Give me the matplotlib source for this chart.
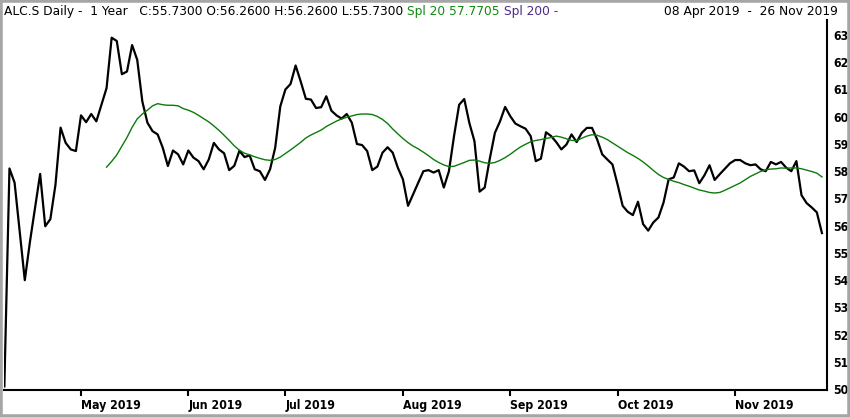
import numpy as np
import pandas as pd
import matplotlib
matplotlib.use("Agg")
import matplotlib.pyplot as plt
from matplotlib import font_manager as fm
from matplotlib.patches import Rectangle
from matplotlib.text import Annotation

# ---------------- data ----------------
start_date = "2019-04-08"
end_date = "2019-11-26"
exchange_holidays = ["2019-04-19", "2019-04-22", "2019-05-01",
                     "2019-05-30", "2019-06-10", "2019-08-01"]

close = [
    50.1, 58.1, 57.58, 55.8, 54.0, 55.4, 56.66, 57.9, 55.98, 56.24,
    57.5, 59.6, 59.04, 58.8, 58.74, 60.05, 59.8, 60.1, 59.83, 60.44,
    61.05, 62.9, 62.78, 61.56, 61.66, 62.63, 62.09, 60.56, 59.78, 59.47,
    59.35, 58.86, 58.19, 58.76, 58.62, 58.25, 58.76, 58.5, 58.37, 58.07,
    58.43, 59.04, 58.8, 58.66, 58.04, 58.2, 58.75, 58.52, 58.58, 58.07,
    58.0, 57.68, 58.07, 58.86, 60.38, 61.0, 61.2, 61.88, 61.29, 60.66,
    60.63, 60.32, 60.35, 60.75, 60.22, 60.05, 59.93, 60.1, 59.78, 59.0,
    58.96, 58.74, 58.04, 58.17, 58.68, 58.88, 58.68, 58.13, 57.7, 56.73,
    57.16, 57.58, 58.0, 58.04, 57.95, 58.04, 57.4, 58.0, 59.29, 60.44,
    60.65, 59.77, 59.1, 57.25, 57.4, 58.46, 59.41, 59.83, 60.36, 60.02,
    59.75, 59.65, 59.56, 59.29, 58.37, 58.46, 59.43, 59.29, 59.07, 58.8,
    58.98, 59.35, 59.07, 59.41, 59.59, 59.59, 59.17, 58.62, 58.43, 58.25,
    57.52, 56.73, 56.51, 56.39, 56.88, 56.06, 55.82, 56.12, 56.3, 56.85,
    57.7, 57.77, 58.29, 58.17, 58.0, 58.03, 57.56, 57.85, 58.22, 57.68,
    57.89, 58.09, 58.29, 58.41, 58.41, 58.29, 58.22, 58.25, 58.07, 58.0,
    58.34, 58.25, 58.34, 58.13, 58.0, 58.37, 57.12, 56.83, 56.67, 56.49,
    55.73,
]

spl20 = [
    58.15, 58.36, 58.6, 58.92, 59.24, 59.61, 59.92, 60.1, 60.24, 60.4,
    60.48, 60.44, 60.42, 60.42, 60.4, 60.3, 60.24, 60.16, 60.05, 59.93,
    59.81, 59.66, 59.5, 59.32, 59.13, 58.93, 58.77, 58.66, 58.6, 58.53,
    58.47, 58.42, 58.4, 58.43, 58.52, 58.65, 58.78, 58.92, 59.06, 59.22,
    59.33, 59.42, 59.51, 59.64, 59.74, 59.84, 59.92, 59.98, 60.03, 60.08,
    60.1, 60.1, 60.08, 60.01, 59.9, 59.75, 59.55, 59.37, 59.2, 59.05,
    58.92, 58.82, 58.7, 58.57, 58.43, 58.32, 58.23, 58.17, 58.18, 58.25,
    58.32, 58.4, 58.41, 58.37, 58.31, 58.29, 58.32, 58.4, 58.5, 58.62,
    58.76, 58.89, 58.99, 59.08, 59.13, 59.16, 59.2, 59.24, 59.29, 59.25,
    59.19, 59.13, 59.12, 59.21, 59.29, 59.34, 59.32, 59.25, 59.16, 59.04,
    58.92, 58.8, 58.68, 58.58, 58.47, 58.34, 58.19, 58.03, 57.88, 57.77,
    57.7, 57.63, 57.58, 57.51, 57.45, 57.38, 57.31, 57.27, 57.22, 57.2,
    57.22, 57.3, 57.39, 57.48, 57.57, 57.69, 57.81, 57.9, 57.99, 58.05,
    58.08, 58.09, 58.12, 58.11, 58.12, 58.12, 58.09, 58.04, 57.99, 57.93,
    57.79,
]

month_labels = ["May 2019", "Jun 2019", "Jul 2019", "Aug 2019",
                "Sep 2019", "Oct 2019", "Nov 2019"]
y_ticks = list(range(50, 64))

header_main = "ALC.S Daily -  1 Year   C:55.7300 O:56.2600 H:56.2600 L:55.7300 "
header_spl20 = "Spl 20 57.7705 "
header_spl200 = "Spl 200 -"
header_range = "08 Apr 2019  -  26 Nov 2019"

# ---------------- derived positions ----------------
days = pd.bdate_range(start_date, end_date, freq="C", holidays=exchange_holidays)
pos = np.arange(len(days))
spl_pos = pos[len(days) - len(spl20):]
months = days.to_period("M")
tick_pos = [int(np.where(months == m)[0][0]) for m in months.unique()[1:]]

# ---------------- fonts ----------------
W, H = 850, 417
have_cond = any(f.name == "DejaVu Sans" and f.stretch == "condensed"
                for f in fm.fontManager.ttflist)
names = {f.name for f in fm.fontManager.ttflist}
if have_cond:
    tick_font = dict(family="DejaVu Sans", stretch="condensed", size=8.8, weight="bold")
elif "Liberation Sans Narrow" in names:
    tick_font = dict(family="Liberation Sans Narrow", size=10.5, weight="bold")
else:
    tick_font = dict(family="DejaVu Sans", size=7.5, weight="bold")

# ---------------- figure ----------------
fig = plt.figure(figsize=(W / 100, H / 100), dpi=100)
fig.patch.set_facecolor("white")

left_px, right_px, top_px, bottom_px = 4, 827, 20, 390
ax = fig.add_axes([left_px / W, (H - bottom_px) / H,
                   (right_px - left_px) / W, (bottom_px - top_px) / H])

ax.plot(pos, close, color="black", lw=1.6, solid_joinstyle="round")
ax.plot(spl_pos, spl20, color="#0c7a0c", lw=1.0)

ax.set_xlim(-0.07, 160.99)
ax.set_ylim(49.97, 63.55)

for s in ("top", "left"):
    ax.spines[s].set_visible(False)
for s in ("right", "bottom"):
    ax.spines[s].set_linewidth(1.5)
    ax.spines[s].set_color("black")

ax.yaxis.tick_right()
ax.set_yticks(y_ticks)
ax.set_yticklabels([str(v) for v in y_ticks], **tick_font)
ax.tick_params(axis="y", length=0, pad=4.5)

ax.set_xticks(tick_pos)
ax.set_xticklabels(month_labels, **tick_font)
ax.tick_params(axis="x", direction="out", length=4.5, width=1.5, pad=2)
for lab in ax.get_xticklabels():
    lab.set_ha("left")

# header (chained so the coloured parts follow each other)
hy = 1 - 11 / H
hfont = dict(fontsize=8.85, family="DejaVu Sans")
t1 = fig.text(4 / W, hy, header_main, color="black", va="center", **hfont)
a2 = fig.add_artist(Annotation(
    header_spl20, xy=(1, 0.5), xycoords=t1, va="center", ha="left",
    color="#128a12", **hfont))
a3 = fig.add_artist(Annotation(
    header_spl200, xy=(1, 0.5), xycoords=a2, va="center", ha="left",
    color="#4b2a8a", **hfont))
fig.text(838 / W, hy, header_range, color="black", va="center",
         ha="right", **hfont)

# outer frame
fig.patches.append(Rectangle((0, 0), 1, 1, transform=fig.transFigure,
                             fill=False, edgecolor="#a6a6a6", lw=4))

fig.savefig("out.png", dpi=100)
